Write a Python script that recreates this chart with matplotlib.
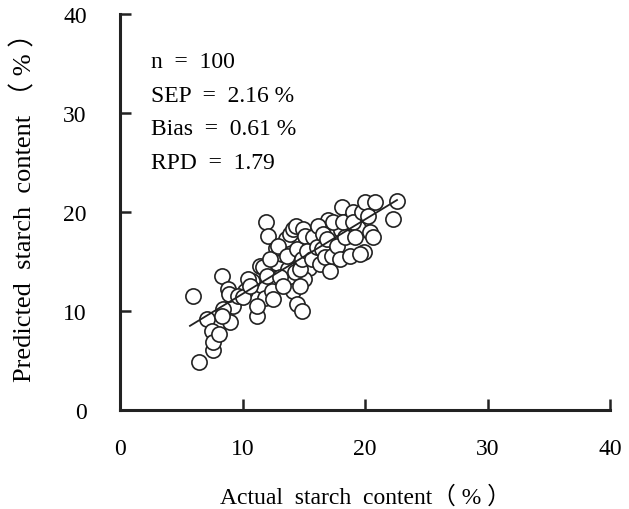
import matplotlib.pyplot as plt
import numpy as np

# actual vs predicted starch content (%)
actual = [9.2, 10.2, 11.5, 12.0, 12.8, 13.2, 13.7, 14.0, 14.5, 15.4, 15.9, 16.3, 16.9,
          17.5, 18.0, 18.6, 19.4, 20.1, 12.7, 13.5, 15.0, 11.8, 10.8, 17.0, 19.9, 14.1,
          5.98, 6.47, 7.57, 7.08, 7.49, 7.62, 8.11, 8.30, 8.43, 8.84, 8.92, 8.98, 8.30,
          9.66, 10.07, 10.47, 10.61, 11.16, 11.16, 11.43, 11.70, 11.92, 12.10, 12.24,
          11.97, 12.38, 12.51, 12.92, 13.06, 13.33, 13.61, 13.88, 14.15, 14.29, 14.37,
          14.42, 14.42, 14.83, 14.69, 14.69, 14.83, 14.96, 15.10, 15.24, 15.65, 15.78,
          16.06, 16.19, 16.33, 16.47, 16.60, 16.73, 16.87, 17.14, 17.28, 17.41, 17.69,
          17.96, 18.10, 18.23, 18.37, 18.78, 19.05, 19.05, 19.18, 19.59, 19.73, 20.00,
          20.27, 20.41, 20.68, 20.82, 22.31, 22.64]
predicted = [10.5, 12.0, 12.6, 13.9, 14.8, 15.8, 14.2, 16.9, 15.6, 14.3, 16.8, 17.9, 16.0,
             17.8, 18.2, 19.4, 18.4, 20.1, 16.4, 17.3, 13.2, 11.3, 13.0, 19.2, 16.0, 12.0,
             11.55, 4.82, 6.09, 9.19, 8.01, 6.84, 7.68, 13.57, 10.20, 12.22, 11.72, 8.86,
             9.53, 11.55, 11.38, 13.23, 12.56, 9.53, 10.54, 14.58, 14.41, 18.96, 17.60,
             15.25, 13.57, 12.05, 11.21, 16.60, 13.40, 12.56, 15.59, 17.78, 18.28, 13.91,
             18.62, 16.26, 10.71, 10.03, 14.24, 12.56, 15.25, 18.28, 17.60, 16.09, 15.25,
             17.44, 16.43, 18.62, 14.75, 16.26, 17.78, 15.42, 17.27, 14.07, 15.59, 18.96,
             16.60, 15.25, 20.47, 18.96, 17.44, 15.59, 19.97, 18.96, 17.44, 15.76, 19.97,
             20.98, 19.63, 17.95, 17.44, 20.98, 19.29, 21.14]

# regression line end points
fit_x = [5.7, 22.6]
fit_y = [8.5, 21.2]

stats = ['n  =  100', 'SEP  =  2.16 %', 'Bias  =  0.61 %', 'RPD  =  1.79']

serif = ['Liberation Serif', 'Noto Sans CJK SC']

fig = plt.figure(figsize=(6.29, 5.10), dpi=100)
ax = fig.add_axes([0.191, 0.194, 0.779, 0.777])

ax.scatter(actual, predicted, s=120, facecolors='white', edgecolors='#222222',
           linewidths=1.2, zorder=2)
ax.plot(fit_x, fit_y, color='#222222', lw=1.3, zorder=3)

for i, s in enumerate(stats):
    ax.text(2.5, 35.2 - i * 3.4, s, fontsize=17, family=serif, va='center', ha='left')

ax.set_xlim(0, 40)
ax.set_ylim(0, 40)
ax.set_xticks(np.arange(0, 41, 10))
ax.set_yticks(np.arange(0, 41, 10))
ax.tick_params(direction='in', length=8, width=1.8, labelsize=17, color='#222222')
ax.tick_params(axis='x', pad=20)
ax.tick_params(axis='y', pad=24)
for lab in ax.get_xticklabels() + ax.get_yticklabels():
    lab.set_family(serif)

for side in ['top', 'right']:
    ax.spines[side].set_visible(False)
for side in ['left', 'bottom']:
    ax.spines[side].set_linewidth(2.2)
    ax.spines[side].set_color('#222222')

ax.set_xlabel('Actual  starch  content（ % ）', fontsize=17, family=serif, labelpad=19)
ax.set_ylabel('Predicted  starch  content （ % ）', fontsize=19, family=serif)
ax.yaxis.set_label_coords(-0.17, 0.53)

fig.savefig('out.png', dpi=100)
